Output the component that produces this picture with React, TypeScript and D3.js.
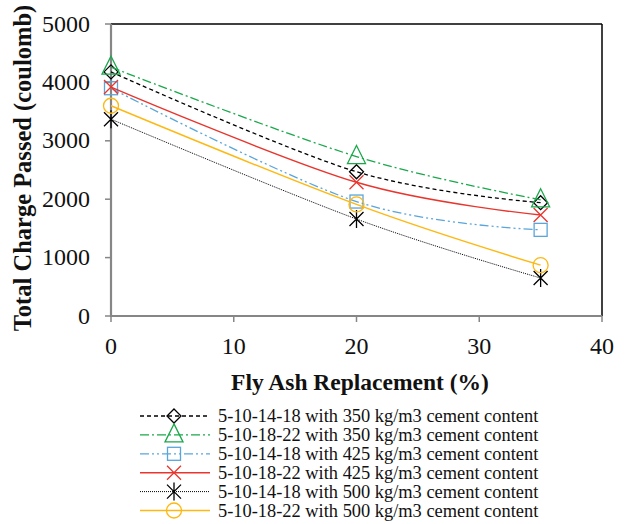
import React from "react";
import * as d3 from "d3";

// fly ash replacement (%)
const flyAsh = [0, 20, 35];

const seriesNames = [
  "5-10-14-18 with 350 kg/m3 cement content",
  "5-10-18-22 with 350 kg/m3 cement content",
  "5-10-14-18 with 425 kg/m3 cement content",
  "5-10-18-22 with 425 kg/m3 cement content",
  "5-10-14-18 with 500 kg/m3 cement content",
  "5-10-18-22 with 500 kg/m3 cement content",
];

// total charge passed (coulomb)
const s350a = [4180, 2470, 1940];
const s350b = [4260, 2730, 1990];
const s425a = [3900, 1960, 1475];
const s425b = [3920, 2290, 1730];
const s500a = [3370, 1660, 650];
const s500b = [3600, 1910, 870];

const yTicks = [0, 1000, 2000, 3000, 4000, 5000];
const xTicks = [0, 10, 20, 30, 40];

const W = 626;
const H = 524;
const M = { left: 111, right: 602, top: 24, bottom: 316 };
const FONT = "Liberation Serif";

const styles = [
  { color: "#000000", dash: "4,3", width: 1.3, marker: "diamond" },
  { color: "#1aa84a", dash: "9,3,2,3", width: 1.3, marker: "triangle" },
  { color: "#5aa5da", dash: "9,3,2,3,2,3", width: 1.3, marker: "square" },
  { color: "#e8362e", dash: "", width: 1.4, marker: "x" },
  { color: "#000000", dash: "1,1", width: 1, marker: "star" },
  { color: "#fdb813", dash: "", width: 1.4, marker: "circle" },
];

function Marker({ kind, x, y, color }: { kind: string; x: number; y: number; color: string }) {
  const p = { fill: "none", stroke: color, strokeWidth: 1.3 };
  if (kind === "diamond")
    return <path d={`M${x},${y - 7}L${x + 7},${y}L${x},${y + 7}L${x - 7},${y}Z`} {...p} />;
  if (kind === "triangle")
    return <path d={`M${x},${y - 11}L${x + 9},${y + 7}L${x - 9},${y + 7}Z`} {...p} />;
  if (kind === "square") return <rect x={x - 6.5} y={y - 6.5} width={13} height={13} {...p} />;
  if (kind === "x")
    return <path d={`M${x - 7},${y - 7}L${x + 7},${y + 7}M${x + 7},${y - 7}L${x - 7},${y + 7}`} {...p} />;
  if (kind === "star")
    return (
      <path
        d={`M${x - 7},${y - 7}L${x + 7},${y + 7}M${x + 7},${y - 7}L${x - 7},${y + 7}M${x},${y - 9}L${x},${y + 9}`}
        {...p}
      />
    );
  return <circle cx={x} cy={y} r={7.5} {...p} />;
}

export default function App() {
  const data = [s350a, s350b, s425a, s425b, s500a, s500b];

  const x = d3.scaleLinear().domain([0, 40]).range([M.left, M.right]);
  const y = d3.scaleLinear().domain([0, 5000]).range([M.bottom, M.top]);

  const line = d3
    .line<number>()
    .x((d, i) => x(flyAsh[i]))
    .y((d) => y(d))
    .curve(d3.curveCardinal.tension(0));

  const legendY = (i: number) => 416 + i * 18.9;
  const txt = { fontFamily: FONT };

  return (
    <svg
      width={W}
      height={H}
      style={{ position: "absolute", left: 0, top: 0, background: "#fff" }}
    >
      {/* plot frame */}
      <line x1={M.left} x2={M.right} y1={M.top} y2={M.top} stroke="#000" strokeWidth={1.5} />
      <line x1={M.right} x2={M.right} y1={M.top} y2={M.bottom} stroke="#000" strokeWidth={1.5} />
      <line x1={M.left} x2={M.left} y1={M.top} y2={M.bottom + 1} stroke="#868686" strokeWidth={2.2} />
      <line x1={M.left} x2={M.right} y1={M.bottom} y2={M.bottom} stroke="#868686" strokeWidth={2.2} />

      {yTicks.map((t) => (
        <g key={"y" + t}>
          <line x1={M.left - 6} x2={M.left} y1={y(t)} y2={y(t)} stroke="#868686" strokeWidth={1.5} />
          <text x={M.left - 21} y={y(t) + 7.5} textAnchor="end" fontSize={24} fill="#111" style={txt}>
            {t}
          </text>
        </g>
      ))}
      {xTicks.map((t) => (
        <g key={"x" + t}>
          <line x1={x(t)} x2={x(t)} y1={M.bottom} y2={M.bottom + 6} stroke="#868686" strokeWidth={1.5} />
          <text x={x(t)} y={M.bottom + 38} textAnchor="middle" fontSize={24} fill="#111" style={txt}>
            {t}
          </text>
        </g>
      ))}

      <text
        transform={`translate(31,168) rotate(-90)`}
        textAnchor="middle"
        fontSize={24.5}
        fontWeight="bold"
        fill="#111"
        style={txt}
      >
        Total Charge Passed (coulomb)
      </text>
      <text x={360} y={390} textAnchor="middle" fontSize={23.5} fontWeight="bold" fill="#111" style={txt}>
        Fly Ash Replacement (%)
      </text>

      {data.map((vals, si) => (
        <g key={"s" + si}>
          <path
            d={line(vals) || ""}
            fill="none"
            stroke={styles[si].color}
            strokeWidth={styles[si].width}
            strokeDasharray={styles[si].dash}
          />
          {vals.map((v, i) => (
            <Marker key={i} kind={styles[si].marker} x={x(flyAsh[i])} y={y(v)} color={styles[si].color} />
          ))}
        </g>
      ))}

      {seriesNames.map((name, i) => (
        <g key={"l" + i}>
          <line
            x1={140}
            x2={210}
            y1={legendY(i)}
            y2={legendY(i)}
            stroke={styles[i].color}
            strokeWidth={styles[i].width}
            strokeDasharray={styles[i].dash}
          />
          <Marker kind={styles[i].marker} x={174} y={legendY(i)} color={styles[i].color} />
          <text x={218} y={legendY(i) + 6.3} fontSize={18.4} fill="#111" style={txt}>
            {name}
          </text>
        </g>
      ))}
    </svg>
  );
}
